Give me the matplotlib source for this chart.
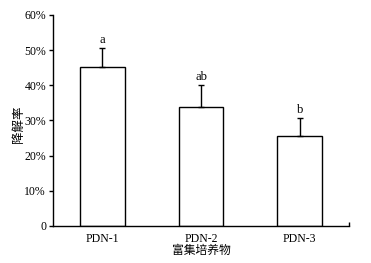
import numpy as np
import matplotlib
matplotlib.use("Agg")
import matplotlib.pyplot as plt
from matplotlib.ticker import FuncFormatter

plt.rcParams['font.family'] = ['Liberation Serif', 'Noto Sans CJK SC']

# data
groups = ["PDN-1", "PDN-2", "PDN-3"]
rates = [45.2, 33.8, 25.6]
errors = [5.4, 6.3, 5.1]
letters = ["a", "ab", "b"]

fig = plt.figure(figsize=(3.71, 2.63), dpi=100)
ax = fig.add_axes([0.1429, 0.1407, 0.7978, 0.8023])

x = np.arange(len(groups))
ax.bar(x, rates, width=0.45, color="white", edgecolor="black", linewidth=1.0, zorder=2)
ax.errorbar(x, rates, yerr=[np.zeros(len(errors)), errors], fmt="none",
            ecolor="black", elinewidth=1.0, capsize=2.2, capthick=1.0, zorder=3)

for xi, r, e, lab in zip(x, rates, errors, letters):
    ax.text(xi, r + e + 0.5, lab, ha="center", va="bottom", fontsize=9)

ax.set_xlim(-0.5, 2.5)
ax.set_ylim(0, 60)
ax.set_yticks(np.arange(0, 61, 10))
ax.yaxis.set_major_formatter(FuncFormatter(lambda v, p: "0" if v == 0 else f"{int(v)}%"))
ax.set_xticks(x)
ax.set_xticklabels(groups)
ax.tick_params(axis="x", length=0, pad=5, labelsize=8.5)
ax.tick_params(axis="y", length=3, width=1.0, direction="out", labelsize=8.5, pad=2)
ax.set_xticks([2.5], minor=True)
ax.tick_params(axis="x", which="minor", direction="in", length=3, width=1.0)

for s in ["top", "right"]:
    ax.spines[s].set_visible(False)
for s in ["left", "bottom"]:
    ax.spines[s].set_linewidth(1.0)

ax.set_xlabel("富集培养物", fontsize=8.5, labelpad=0)
ax.set_ylabel("降解率", fontsize=9)
ax.yaxis.set_label_coords(-0.094, 0.48)

fig.savefig("out.png", dpi=100)
